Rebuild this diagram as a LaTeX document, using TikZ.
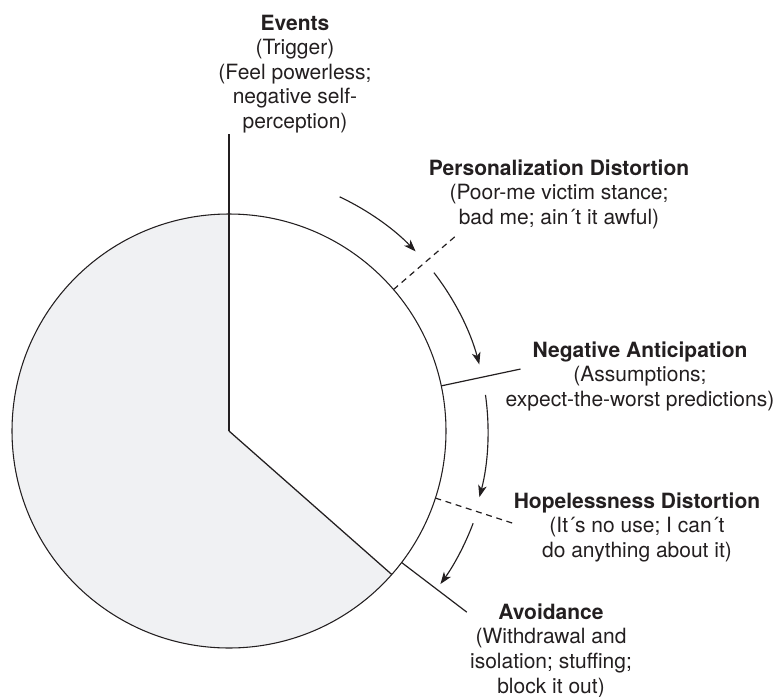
\documentclass[tikz,border=0pt]{standalone}
\usepackage{fontspec}
\setmainfont{TeX Gyre Heros}
\usetikzlibrary{arrows.meta}
\definecolor{ink}{RGB}{35,31,32}
\definecolor{sectorgray}{RGB}{240,241,243}
\begin{document}
\begin{tikzpicture}[x=0.75pt,y=0.75pt,
  rim/.style={draw=ink,line width=0.8pt},
  spoke/.style={draw=ink,line width=0.95pt},
  tick/.style={draw=ink,line width=0.9pt},
  dashtick/.style={tick,dash pattern=on 4.5pt off 3.5pt},
  flow/.style={draw=ink,line width=0.85pt,-{Stealth[length=9pt,width=6.5pt,inset=2.5pt]}},
  caption/.style={font=\fontsize{15.75}{18.4}\selectfont,align=center,text=ink,inner sep=0pt,anchor=north}]
\useasboundingbox (0,0) rectangle (778,-696);

% wheel and shaded sector
\coordinate (C) at (229,-431);
\fill[sectorgray] (C) -- ++(90:217) arc[start angle=90,end angle=318.6,radius=217] -- cycle;
\draw[rim] (C) circle[radius=217];

% radial dividers inside the wheel
\coordinate (evtop) at (229,-134);
\path (C) ++(-41.4:217) coordinate (avin);
\draw[spoke] (C) -- (evtop);
\draw[spoke] (C) -- (avin);

% label ticks outside the rim
\path (C) ++(40.7:217) coordinate (p1) ++(40.7:81) coordinate (p2);
\path (C) ++(12:217) coordinate (n1) ++(12:81) coordinate (n2);
\path (C) ++(-18:217) coordinate (h1) ++(-18:81) coordinate (h2);
\path (C) ++(-37.3:217) coordinate (a1) ++(-37.3:82) coordinate (a2);
\draw[dashtick] (p1) -- (p2);
\draw[tick] (n1) -- (n2);
\draw[dashtick] (h1) -- (h2);
\draw[tick] (a1) -- (a2);

% flow arrows around the rim
\draw[flow] (C) ++(64.7:259) arc[start angle=64.7,end angle=43.9,radius=259];
\draw[flow] (C) ++(37.7:259) arc[start angle=37.7,end angle=14.9,radius=259];
\draw[flow] (C) ++(8:259) arc[start angle=8,end angle=-14.8,radius=259];
\draw[flow] (C) ++(-20.7:261) arc[start angle=-20.7,end angle=-35.9,radius=261];

% stage labels
\node[caption] (events) at (295,-14.5) {\textbf{Events}\\(Trigger)\\(Feel powerless;\\negative self-\\perception)};
\node[caption] (personal) at (559,-159.5) {\textbf{Personalization Distortion}\\(Poor-me victim stance;\\bad me; ain´t it awful)};
\node[caption] (anticip) at (640,-341.5) {\textbf{Negative Anticipation}\\(Assumptions;\\expect-the-worst predictions)};
\node[caption] (hopeless) at (637,-492.5) {\textbf{Hopelessness Distortion}\\(It´s no use; I can´t\\do anything about it)};
\node[caption] (avoid) at (551,-603.5) {\textbf{Avoidance}\\(Withdrawal and\\isolation; stuffing;\\block it out)};
\end{tikzpicture}
\end{document}
